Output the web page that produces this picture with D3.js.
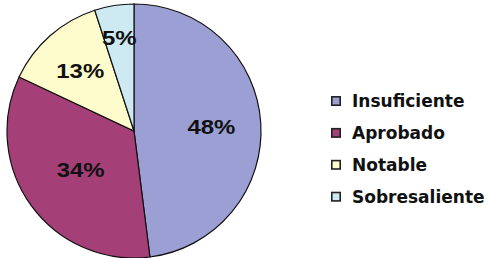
<!DOCTYPE html>
<html>
<head>
<meta charset="utf-8">
<script src="https://cdn.jsdelivr.net/npm/d3@7"></script>
<style>
  body { margin: 0; background: #fff; }
  svg { display: block; }
</style>
</head>
<body>
<div class="chart"></div>
<script>
// data
var categories = ["Insuficiente", "Aprobado", "Notable", "Sobresaliente"];
var shares = [48, 34, 13, 5];
var colors = ["#9c9fd3", "#a53f78", "#fefccc", "#cdeaf3"];

// label distance from centre, as a fraction of the radius
var labelRadius = [0.61, 0.52, 0.64, 0.745];

var svgWidth = 488, svgHeight = 258;
var radius = 127;
var cx = 134, cy = 131;

var svg = d3.select(".chart")
  .append("svg")
  .attr("width", svgWidth)
  .attr("height", svgHeight);

var pieData = d3.pie().sort(null).value(d => d)(shares);

var arc = d3.arc().innerRadius(0).outerRadius(radius);

var pieGroup = svg.append("g")
  .attr("transform", `translate(${cx}, ${cy})`);

pieGroup.selectAll("path")
  .data(pieData)
  .enter()
  .append("path")
  .attr("d", arc)
  .attr("fill", (d, i) => colors[i])
  .attr("stroke", "#111")
  .attr("stroke-width", 1.2);

// the original labels are a bit wider than plain Arial bold
pieGroup.selectAll("text")
  .data(pieData)
  .enter()
  .append("text")
  .attr("transform", (d, i) => {
    var a = (d.startAngle + d.endAngle) / 2;
    var r = radius * labelRadius[i];
    return `translate(${r * Math.sin(a)}, ${-r * Math.cos(a)}) scale(1.14, 1)`;
  })
  .attr("text-anchor", "middle")
  .attr("dy", "0.36em")
  .style("font-family", "'Liberation Sans', Arial, sans-serif")
  .style("font-weight", "bold")
  .style("font-size", "21px")
  .attr("fill", "#111")
  .text(d => d.data + "%");

// legend
var legend = svg.append("g")
  .attr("transform", "translate(331, 101)");

var rows = legend.selectAll("g")
  .data(categories)
  .enter()
  .append("g")
  .attr("transform", (d, i) => `translate(0, ${i * 31.9})`);

rows.append("rect")
  .attr("x", 0.8)
  .attr("y", -4.2)
  .attr("width", 8.4)
  .attr("height", 8.4)
  .attr("fill", (d, i) => colors[i])
  .attr("stroke", "#222")
  .attr("stroke-width", 1.6);

rows.append("text")
  .attr("x", 21)
  .attr("dy", "0.36em")
  .style("font-family", "'DejaVu Sans', Verdana, sans-serif")
  .style("font-weight", "bold")
  .style("font-size", "17px")
  .attr("fill", "#111")
  .text(d => d);
</script>
</body>
</html>
